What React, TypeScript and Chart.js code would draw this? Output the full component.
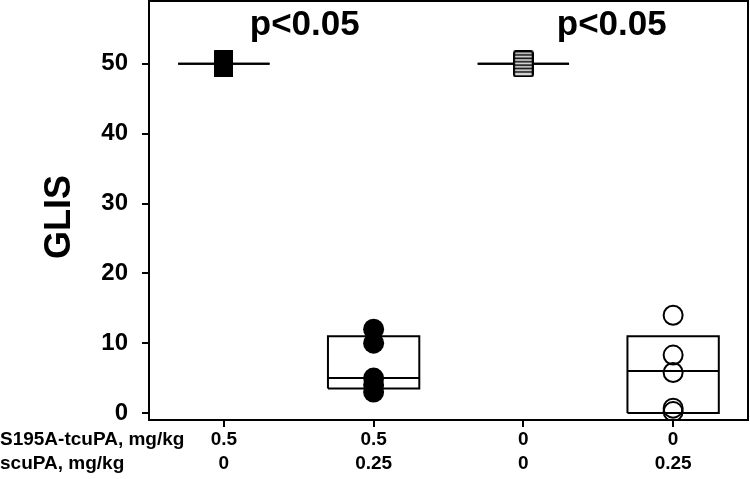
import React, { useEffect, useRef } from "react";
import { Chart, registerables } from "chart.js";
Chart.register(...registerables);

// ---- data ----
const groupPositions = [1, 2, 3, 4];
const s195aDose = ["0.5", "0.5", "0", "0"];
const scupaDose = ["0", "0.25", "0", "0.25"];
const rowTitles = ["S195A-tcuPA, mg/kg", "scuPA, mg/kg"];
const yTicks = [0, 10, 20, 30, 40, 50];
const yTitle = "GLIS";

const g1Values = [50, 50, 50, 50, 50];
const g2Values = [12, 10, 5, 4, 3];
const g3Values = [50, 50, 50, 50, 50];
const g4Values = [14, 8.3, 5.8, 0.7, 0.2];

const boxQ1 = [50, 3.5, 50, 0];
const boxMedian = [50, 5, 50, 6];
const boxQ3 = [50, 11, 50, 11];

const pLabels = ["p<0.05", "p<0.05"];
const pLabelX = [1.54, 3.59];
const pLabelY = [54.2, 54.2];

const FONT = "'Liberation Sans', Arial, sans-serif";
const BOX_HALF = 0.305;

function makeSolidRect(): HTMLCanvasElement {
  const c = document.createElement("canvas");
  c.width = 19;
  c.height = 27;
  const ctx = c.getContext("2d")!;
  ctx.fillStyle = "#000";
  ctx.beginPath();
  (ctx as any).roundRect(0, 0, 19, 27, 2);
  ctx.fill();
  return c;
}

function makeStripedRect(): HTMLCanvasElement {
  const c = document.createElement("canvas");
  c.width = 21;
  c.height = 27;
  const ctx = c.getContext("2d")!;
  ctx.fillStyle = "#fff";
  ctx.fillRect(0, 0, 21, 27);
  ctx.strokeStyle = "#000";
  ctx.lineWidth = 1.8;
  for (let y = 4.6; y < 24; y += 3.4) {
    ctx.beginPath();
    ctx.moveTo(1, y);
    ctx.lineTo(20, y);
    ctx.stroke();
  }
  ctx.lineWidth = 2.2;
  ctx.beginPath();
  (ctx as any).roundRect(1.1, 1.1, 18.8, 24.8, 2);
  ctx.stroke();
  return c;
}

const decorPlugin = {
  id: "decor",
  afterDraw(chart: any) {
    const { ctx, chartArea, scales } = chart;
    ctx.save();
    // frame top/right
    ctx.strokeStyle = "#000";
    ctx.lineWidth = 2;
    ctx.beginPath();
    ctx.moveTo(chartArea.left - 1, chartArea.top);
    ctx.lineTo(chartArea.right, chartArea.top);
    ctx.lineTo(chartArea.right, chartArea.bottom + 1);
    ctx.stroke();
    ctx.fillStyle = "#000";
    // p labels
    ctx.font = `bold 35px ${FONT}`;
    ctx.textAlign = "center";
    ctx.textBaseline = "alphabetic";
    pLabels.forEach((t, i) => {
      ctx.fillText(t, scales.x.getPixelForValue(pLabelX[i]), scales.y.getPixelForValue(pLabelY[i]));
    });
    // y title
    ctx.save();
    ctx.font = `bold 36px ${FONT}`;
    ctx.translate(70, 217);
    ctx.rotate(-Math.PI / 2);
    ctx.textAlign = "center";
    ctx.textBaseline = "alphabetic";
    ctx.fillText(yTitle, 0, 0);
    ctx.restore();
    // row titles
    ctx.font = `bold 19px ${FONT}`;
    ctx.textAlign = "left";
    ctx.textBaseline = "middle";
    ctx.fillText(rowTitles[0], 0, chartArea.bottom + 20);
    ctx.fillText(rowTitles[1], 0, chartArea.bottom + 44);
    ctx.restore();
  },
};

export default function App() {
  const ref = useRef<HTMLCanvasElement>(null);
  useEffect(() => {
    const solid = makeSolidRect();
    const striped = makeStripedRect();
    const boxPts: any[] = [];
    const medPts: any[] = [];
    groupPositions.forEach((p, i) => {
      boxPts.push(
        { x: p - BOX_HALF, y: boxQ1[i] },
        { x: p + BOX_HALF, y: boxQ1[i] },
        { x: p + BOX_HALF, y: boxQ3[i] },
        { x: p - BOX_HALF, y: boxQ3[i] },
        { x: p - BOX_HALF, y: boxQ1[i] },
        { x: p, y: null }
      );
      medPts.push({ x: p - BOX_HALF, y: boxMedian[i] }, { x: p + BOX_HALF, y: boxMedian[i] }, { x: p, y: null });
    });
    const chart = new Chart(ref.current!, {
      type: "scatter",
      data: {
        datasets: [
          {
            data: g1Values.map((v) => ({ x: groupPositions[0], y: v })),
            pointStyle: solid as any,
            order: 0,
          },
          {
            data: g3Values.map((v) => ({ x: groupPositions[2], y: v })),
            pointStyle: striped as any,
            order: 0,
          },
          {
            data: g2Values.map((v) => ({ x: groupPositions[1], y: v })),
            pointStyle: "circle",
            pointRadius: 10.5,
            backgroundColor: "#000",
            borderColor: "#000",
            borderWidth: 0,
            order: 1,
          },
          {
            data: g4Values.map((v) => ({ x: groupPositions[3], y: v })),
            pointStyle: "circle",
            pointRadius: 9.5,
            backgroundColor: "rgba(0,0,0,0)",
            borderColor: "#000",
            borderWidth: 2,
            order: 1,
          },
          {
            data: boxPts,
            showLine: true,
            spanGaps: false,
            pointRadius: 0,
            borderColor: "#000",
            borderWidth: 2,
            order: 5,
          } as any,
          {
            data: medPts,
            showLine: true,
            spanGaps: false,
            pointRadius: 0,
            borderColor: "#000",
            borderWidth: 2,
            order: 5,
          } as any,
        ],
      },
      options: {
        animation: false,
        responsive: true,
        maintainAspectRatio: false,
        events: [],
        layout: { autoPadding: false, padding: { top: 1, right: 2, left: 0, bottom: 0 } },
        plugins: { legend: { display: false }, tooltip: { enabled: false } },
        scales: {
          x: {
            type: "linear",
            min: 0.5,
            max: 4.5,
            afterBuildTicks: (s: any) => {
              s.ticks = groupPositions.map((v) => ({ value: v }));
            },
            afterFit: (s: any) => {
              s.height = 59;
              s.paddingLeft = 0;
              s.paddingRight = 0;
            },
            ticks: {
              autoSkip: false,
              maxRotation: 0,
              padding: 1,
              color: "#000",
              font: { family: FONT, size: 19, weight: "bold", lineHeight: 1.25 },
              callback: (_v: any, i: number) => [s195aDose[i], scupaDose[i]],
            },
            grid: { drawOnChartArea: false, drawTicks: true, tickLength: 7, color: "#000", lineWidth: 2 },
            border: { display: true, color: "#000", width: 2 },
          },
          y: {
            type: "linear",
            min: -1,
            max: 59,
            afterBuildTicks: (s: any) => {
              s.ticks = yTicks.map((v) => ({ value: v }));
            },
            afterFit: (s: any) => {
              s.width = 149;
              s.paddingTop = 0;
              s.paddingBottom = 0;
            },
            ticks: {
              padding: 14,
              color: "#000",
              font: { family: FONT, size: 24, weight: "bold" },
              callback: (v: any) => String(v),
            },
            grid: { drawOnChartArea: false, drawTicks: true, tickLength: 7, color: "#000", lineWidth: 2 },
            border: { display: true, color: "#000", width: 2 },
          },
        },
      } as any,
      plugins: [decorPlugin],
    });
    return () => chart.destroy();
  }, []);
  return (
    <div style={{ position: "fixed", left: 0, top: 0, width: 750, height: 479, background: "#fff" }}>
      <canvas ref={ref} />
    </div>
  );
}
